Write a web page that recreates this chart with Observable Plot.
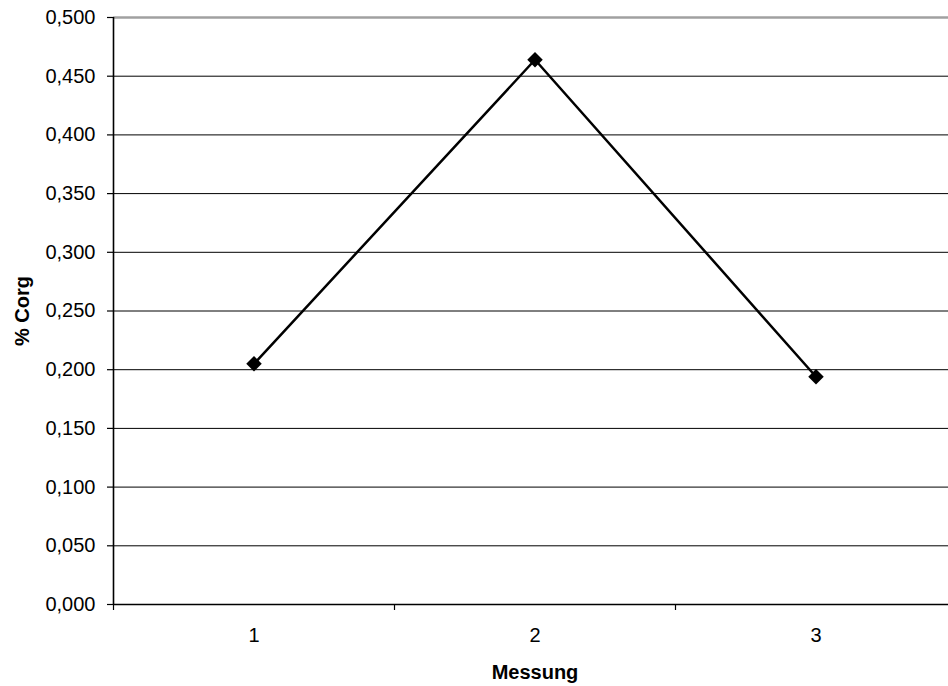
<!DOCTYPE html>
<html>
<head>
<meta charset="utf-8">
<script src="https://cdn.jsdelivr.net/npm/d3@7"></script>
<script src="https://cdn.jsdelivr.net/npm/@observablehq/plot@0.6"></script>
<style>
  html, body { margin: 0; padding: 0; background: #fff; }
  svg { display: block; }
</style>
</head>
<body>
<div id="chart"></div>
<script>
const messung = [1, 2, 3];
const corg = [0.205, 0.464, 0.194];
const yTicks = [0, 0.05, 0.1, 0.15, 0.2, 0.25, 0.3, 0.35, 0.4, 0.45, 0.5];
const xTickLabels = ["1", "2", "3"];
const xLabel = "Messung";
const yLabel = "% Corg";

const data = messung.map((m, i) => ({m, v: corg[i]}));
const fmt = d => d.toFixed(3).replace(".", ",");
const font = "'Liberation Sans', Arial, sans-serif";

const chart = Plot.plot({
  width: 948,
  height: 686,
  marginLeft: 113,
  marginRight: 0,
  marginTop: 17,
  marginBottom: 82,
  style: {fontFamily: font, fontSize: "20px", color: "#000", background: "#fff"},
  x: {domain: [0.5, 3.4715], axis: null},
  y: {domain: [0, 0.5], axis: null},
  marks: [
    Plot.ruleY(yTicks.filter(t => t > 0 && t < 0.5), {stroke: "#000", strokeWidth: 1}),
    Plot.ruleY([0.5], {stroke: "#a0a0a0", strokeWidth: 2.5}),
    Plot.axisY({ticks: yTicks, tickSize: 6, tickPadding: 12, tickFormat: fmt, stroke: "#000", strokeWidth: 1.2, label: null}),
    Plot.axisX({ticks: [0.5, 1.5, 2.5], tickSize: 6, tickFormat: () => "", stroke: "#000", strokeWidth: 1.2, label: null}),
    Plot.axisX({ticks: messung, tickSize: 0, tickPadding: 23, tickFormat: (d, i) => xTickLabels[i], label: null}),
    Plot.ruleX([0.5], {stroke: "#000", strokeWidth: 1.6}),
    Plot.ruleY([0], {stroke: "#000", strokeWidth: 1.6}),
    Plot.line(data, {x: "m", y: "v", stroke: "#000", strokeWidth: 2.5}),
    Plot.dot(data, {x: "m", y: "v", symbol: "diamond2", r: 7, fill: "#000", stroke: "none"}),
    Plot.text([yLabel], {frameAnchor: "left", dx: -91, textAnchor: "middle", lineAnchor: "middle", rotate: -90, text: d => d, fontWeight: "bold", fontSize: 20}),
    Plot.text([xLabel], {x: 2, frameAnchor: "bottom", dy: 68, lineAnchor: "middle", text: d => d, fontWeight: "bold", fontSize: 20})
  ]
});
document.getElementById("chart").appendChild(chart);
</script>
</body>
</html>
